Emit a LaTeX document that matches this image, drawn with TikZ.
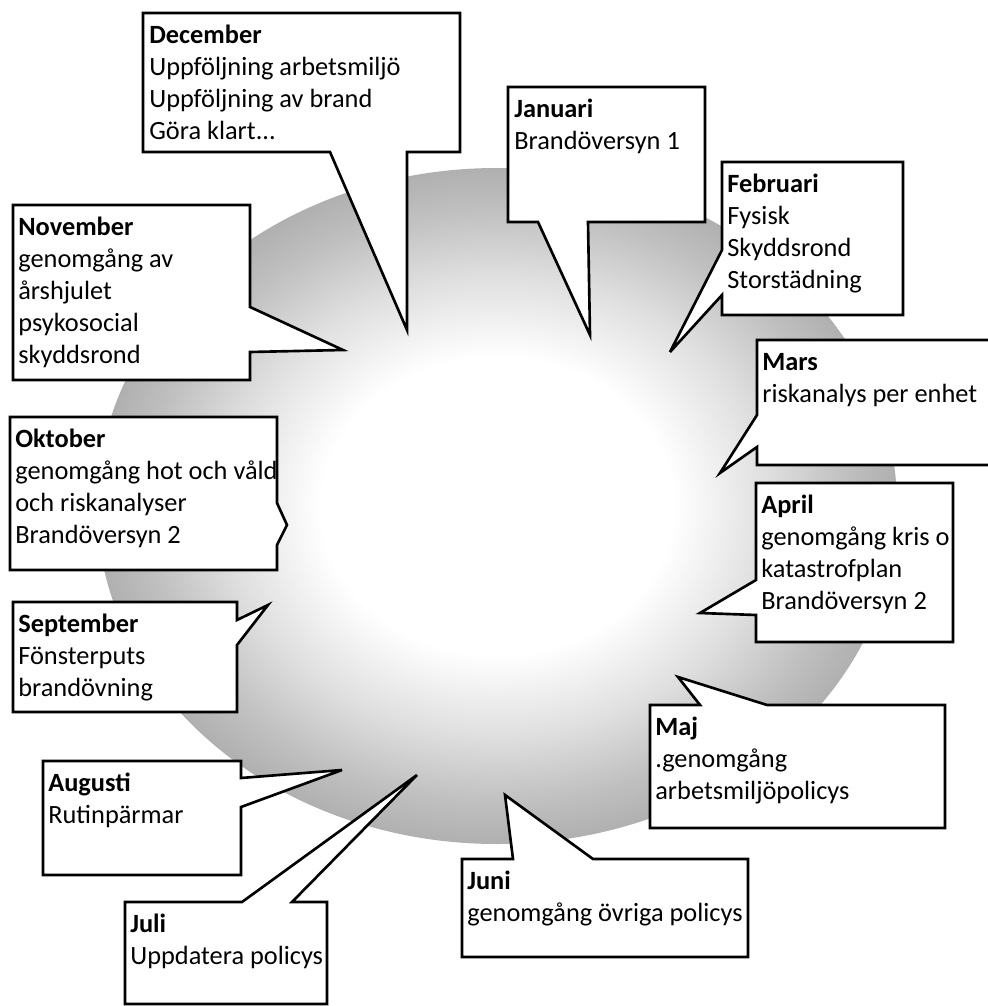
\documentclass[tikz,border=0pt]{standalone}
\usepackage{fontspec}
\setmainfont{Carlito}
\usepackage{tikz}

\pgfdeclareradialshading{ringshade}{\pgfpoint{0bp}{0bp}}{%
  color(0bp)=(white); color(11bp)=(white); color(17bp)=(gray!25);
  color(22bp)=(gray!50); color(25bp)=(gray!62); color(50bp)=(gray!62)}

\begin{document}
\begin{tikzpicture}[x=0.02cm,y=-0.02cm,
    callout/.style={draw,fill=white,line width=1.5pt,line join=miter,miter limit=6},
    month/.style={anchor=north west,align=left,inner sep=0pt,
      font=\fontsize{15}{18.2}\selectfont}]

  \useasboundingbox[fill=white] (0,0) rectangle (987,1006);

  % the wheel
  \shade[shading=ringshade] (497,506) ellipse [x radius=400, y radius=338];

  % pointer tips
  \coordinate (decTip) at (407,330);
  \coordinate (janTip) at (590,335);
  \coordinate (febTip) at (670,352);
  \coordinate (marTip) at (720,473);
  \coordinate (aprTip) at (700,613);
  \coordinate (majTip) at (678,677);
  \coordinate (junTip) at (505,795);
  \coordinate (julTip) at (417,775);
  \coordinate (augTip) at (342,770);
  \coordinate (sepTip) at (268,605);
  \coordinate (oktTip) at (287,525);
  \coordinate (novTip) at (343,350);

  % December
  \draw[callout] (143,13) -- (460,13) -- (460,152) -- (407,152) -- (decTip)
    -- (330,152) -- (143,152) -- cycle;
  \node[month] (dec) at (149,21) {\strut\textbf{December}\\Uppföljning arbetsmiljö\\
    Uppföljning av brand\\Göra klart...};

  % Januari
  \draw[callout] (508,87) -- (705,87) -- (705,222) -- (588,222) -- (janTip)
    -- (538,222) -- (508,222) -- cycle;
  \node[month] (jan) at (514,95) {\strut\textbf{Januari}\\Brandöversyn 1};

  % Februari
  \draw[callout] (722,162) -- (903,162) -- (903,315) -- (722,315) -- (722,295)
    -- (febTip) -- (722,250) -- cycle;
  \node[month] (feb) at (727,170) {\strut\textbf{Februari}\\Fysisk\\Skyddsrond\\Storstädning};

  % Mars
  \draw[callout] (757,340) -- (995,340) -- (995,465) -- (757,465) -- (757,447)
    -- (marTip) -- (757,415) -- cycle;
  \node[month] (mar) at (762,348) {\strut\textbf{Mars}\\riskanalys per enhet};

  % April
  \draw[callout] (756,483) -- (953,483) -- (953,642) -- (756,642) -- (756,615)
    -- (aprTip) -- (756,580) -- cycle;
  \node[month] (apr) at (761,491) {\strut\textbf{April}\\genomgång kris o\\
    katastrofplan\\Brandöversyn 2};

  % Maj
  \draw[callout] (650,705) -- (700,705) -- (majTip) -- (767,705) -- (945,705)
    -- (945,828) -- (650,828) -- cycle;
  \node[month] (maj) at (655,713) {\strut\textbf{Maj}\\.genomgång\\arbetsmiljöpolicys};

  % Juni
  \draw[callout] (462,859) -- (513,859) -- (junTip) -- (593,859) -- (748,859)
    -- (748,957) -- (462,957) -- cycle;
  \node[month] (jun) at (467,867) {\strut\textbf{Juni}\\genomgång övriga policys};

  % Juli
  \draw[callout] (125,902) -- (242,902) -- (julTip) -- (292,902) -- (327,902)
    -- (327,1004) -- (125,1004) -- cycle;
  \node[month] (jul) at (130,910) {\strut\textbf{Juli}\\Uppdatera policys};

  % Augusti
  \draw[callout] (43,761) -- (241,761) -- (241,778) -- (augTip) -- (241,807)
    -- (241,875) -- (43,875) -- cycle;
  \node[month] (aug) at (48,769) {\strut\textbf{Augusti}\\Rutinpärmar};

  % September
  \draw[callout] (13,602) -- (237,602) -- (237,620) -- (sepTip) -- (237,645)
    -- (237,712) -- (13,712) -- cycle;
  \node[month] (sep) at (18,610) {\strut\textbf{September}\\Fönsterputs\\brandövning};

  % Oktober
  \draw[callout] (10,417) -- (277,417) -- (277,503) -- (oktTip) -- (277,545)
    -- (277,570) -- (10,570) -- cycle;
  \node[month] (okt) at (15,425) {\strut\textbf{Oktober}\\genomgång hot och våld\\
    och riskanalyser\\Brandöversyn 2};

  % November
  \draw[callout] (13,205) -- (250,205) -- (250,307) -- (novTip) -- (250,352)
    -- (250,380) -- (13,380) -- cycle;
  \node[month] (nov) at (18,213) {\strut\textbf{November}\\genomgång av\\årshjulet\\
    psykosocial\\skyddsrond};

\end{tikzpicture}
\end{document}
